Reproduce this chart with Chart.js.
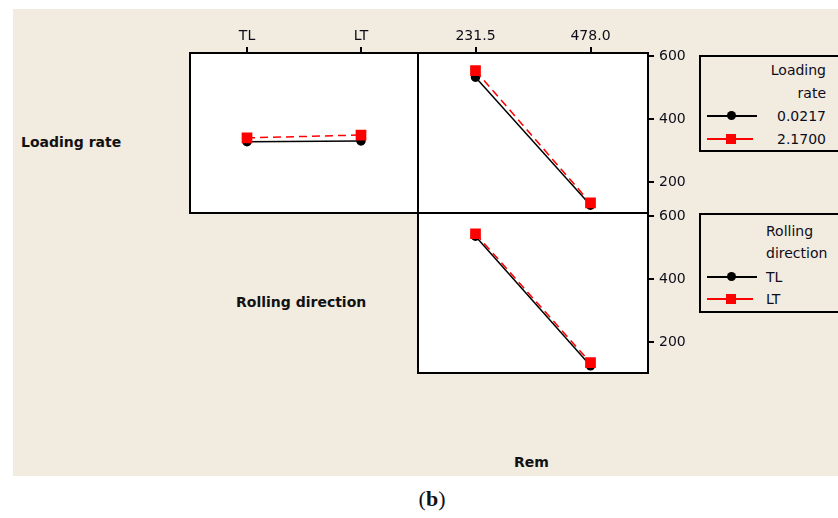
<!DOCTYPE html>
<html>
<head>
<meta charset="utf-8">
<script src="https://cdn.jsdelivr.net/npm/chart.js@4.4.0/dist/chart.umd.min.js"></script>
<style>
body { margin: 0; background: #fff; }
#page { position: relative; width: 838px; height: 518px; overflow: hidden; font-family: "DejaVu Sans", sans-serif; color: #111; }
#bg { position: absolute; left: 13px; top: 9px; width: 825px; height: 467px; background: #f2ebe0; }
canvas { position: absolute; }
.lbl { position: absolute; font-weight: bold; font-size: 14px; line-height: 16px; white-space: nowrap; }
.box { position: absolute; left: 699px; width: 160px; border: 2px solid #000; box-sizing: border-box; }
.lt { position: absolute; font-size: 14px; line-height: 18px; white-space: nowrap; color: #0d0d1a; }
.seg { position: absolute; height: 2px; }
.dot { position: absolute; width: 9px; height: 9px; border-radius: 50%; background: #000; }
.sq { position: absolute; width: 10px; height: 10px; background: #ff0000; }
#cap { position: absolute; left: 392px; top: 485px; width: 80px; text-align: center; font-family: "Liberation Serif", serif; font-size: 22px; line-height: 28px; }
</style>
</head>
<body>
<div id="page">
  <div id="bg"></div>

  <canvas id="cA" width="244" height="201" style="left:182px;top:20px"></canvas>
  <canvas id="cB" width="278" height="201" style="left:410px;top:20px"></canvas>
  <canvas id="cC" width="278" height="181" style="left:410px;top:200px"></canvas>

  <div class="lbl" style="left:21px;top:134px">Loading rate</div>
  <div class="lbl" style="left:236px;top:294px">Rolling direction</div>
  <div class="lbl" style="left:514px;top:454px">Rem</div>

  <!-- legend: loading rate -->
  <div class="box" style="top:55px;height:97px"></div>
  <div class="lt" style="right:12px;top:61px">Loading</div>
  <div class="lt" style="right:12px;top:84px">rate</div>
  <div class="seg" style="left:707px;width:50px;top:115px;background:#000"></div>
  <div class="dot" style="left:727px;top:111px"></div>
  <div class="lt" id="lg1a" style="right:12px;top:107px"></div>
  <div class="seg" style="left:707px;width:46px;top:138px;background:#ff0000"></div>
  <div class="sq" style="left:726px;top:134px"></div>
  <div class="lt" id="lg1b" style="right:12px;top:130px"></div>

  <!-- legend: rolling direction -->
  <div class="box" style="top:213px;height:100px"></div>
  <div class="lt" style="left:766px;top:222px">Rolling</div>
  <div class="lt" style="left:766px;top:244px">direction</div>
  <div class="seg" style="left:707px;width:50px;top:276px;background:#000"></div>
  <div class="dot" style="left:727px;top:272px"></div>
  <div class="lt" id="lg2a" style="left:766px;top:268px"></div>
  <div class="seg" style="left:707px;width:46px;top:298px;background:#ff0000"></div>
  <div class="sq" style="left:726px;top:294px"></div>
  <div class="lt" id="lg2b" style="left:766px;top:290px"></div>

  <div id="cap">(<b>b</b>)</div>
</div>

<script>
// factor levels / tick labels
const rollingLevels = ['TL', 'LT'];
const remLevels = ['231.5', '478.0'];
const loadingLevels = ['0.0217', '2.1700'];
const yTicks = [200, 400, 600];
const yMin = 102, yMax = 611;

// means
const loadLowByRolling = [329, 331];
const loadHighByRolling = [341, 350];
const loadLowByRem = [534, 127];
const loadHighByRem = [555, 134];
const rollTLByRem = [537, 125];
const rollLTByRem = [545, 135];

document.getElementById('lg1a').textContent = loadingLevels[0];
document.getElementById('lg1b').textContent = loadingLevels[1];
document.getElementById('lg2a').textContent = rollingLevels[0];
document.getElementById('lg2b').textContent = rollingLevels[1];

const tickFont = { family: 'DejaVu Sans', size: 14 };
const tickColor = '#0d0d1a';

// white panel with a black frame
const panelFrame = {
  id: 'panelFrame',
  beforeDraw(chart) {
    const a = chart.chartArea, ctx = chart.ctx;
    ctx.save();
    ctx.fillStyle = '#fff';
    ctx.fillRect(a.left, a.top, a.right - a.left, a.bottom - a.top);
    ctx.restore();
  },
  afterDraw(chart) {
    const a = chart.chartArea, ctx = chart.ctx;
    ctx.save();
    ctx.strokeStyle = '#000';
    ctx.lineWidth = 2;
    ctx.strokeRect(a.left, a.top, a.right - a.left, a.bottom - a.top);
    ctx.restore();
  }
};

// no automatic label overflow padding, the panels are placed by hand
function noPad(s) {
  s.paddingLeft = 0; s.paddingRight = 0; s.paddingTop = 0; s.paddingBottom = 0;
}

function blackSet(data) {
  return { data: data, borderColor: '#000', backgroundColor: '#000', borderWidth: 1.5,
           pointStyle: 'circle', pointRadius: 4, order: 1 };
}
function redSet(data) {
  return { data: data, borderColor: '#ff0000', backgroundColor: '#ff0000', borderWidth: 1.5,
           borderDash: [8, 5], pointStyle: 'rect', pointRadius: 6.5, order: 0 };
}

function makePanel(id, labels, black, red, showX, showY, pad) {
  const scales = {
    x: {
      type: 'category', position: 'top', offset: true, display: showX,
      grid: { display: true, drawOnChartArea: false, drawTicks: true, tickLength: 6, color: '#000', lineWidth: 2 },
      border: { display: false },
      ticks: { font: tickFont, color: tickColor, padding: 2, maxRotation: 0 },
      afterFit(s) { s.height = showX ? 33 : 0; noPad(s); }
    },
    y: {
      type: 'linear', position: 'right', min: yMin, max: yMax, display: showY,
      grid: { display: true, drawOnChartArea: false, drawTicks: true, tickLength: 6, color: '#000', lineWidth: 2 },
      border: { display: false },
      ticks: { font: tickFont, color: tickColor, padding: 5 },
      afterBuildTicks(s) { s.ticks = yTicks.map(v => ({ value: v })); },
      afterFit(s) { s.width = showY ? 40 : 0; noPad(s); }
    }
  };
  return new Chart(document.getElementById(id), {
    type: 'line',
    data: { labels: labels, datasets: [blackSet(black), redSet(red)] },
    options: {
      responsive: false,
      animation: false,
      layout: { padding: pad },
      plugins: { legend: { display: false }, tooltip: { enabled: false } },
      scales: scales
    },
    plugins: [panelFrame]
  });
}

makePanel('cA', rollingLevels, loadLowByRolling, loadHighByRolling, true, false,
          { left: 2, right: 2, top: 0, bottom: 2 });
makePanel('cB', remLevels, loadLowByRem, loadHighByRem, true, true,
          { left: 2, right: 0, top: 0, bottom: 2 });
makePanel('cC', remLevels, rollTLByRem, rollLTByRem, false, true,
          { left: 2, right: 0, top: 13, bottom: 2 });
</script>
</body>
</html>
